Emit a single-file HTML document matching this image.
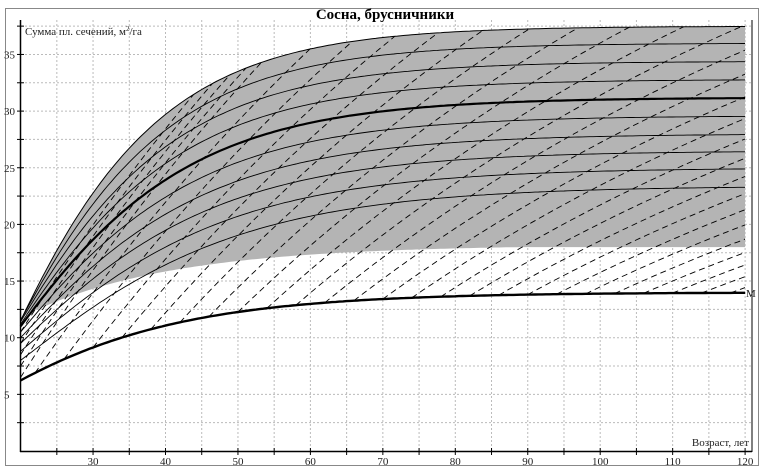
<!DOCTYPE html>
<html><head><meta charset="utf-8">
<style>
html,body{margin:0;padding:0;background:#fff;}
svg{display:block;font-family:"Liberation Serif",serif;}
</style></head>
<body>
<svg id="s" width="763" height="471" viewBox="0 0 763 471" xmlns="http://www.w3.org/2000/svg">
<rect x="0" y="0" width="763" height="471" fill="#fff"/>
<rect x="5.5" y="8.5" width="753" height="457" fill="none" stroke="#888" stroke-width="1"/>
<g id="grid" stroke="#bbb" stroke-width="1" stroke-dasharray="2,2"></g>
<defs>
<clipPath id="plot"><rect x="21" y="20" width="725" height="431"/></clipPath>
<clipPath id="env"><path id="envclip" d=""/></clipPath>
</defs>
<path id="gray" fill="#b4b4b4" stroke="none" clip-path="url(#plot)"/>
<g id="dash" fill="none" stroke="#000" stroke-width="0.9" stroke-dasharray="6,4" clip-path="url(#env)"></g>
<g id="sol" fill="none" stroke="#000" stroke-width="0.9" clip-path="url(#env)"></g>
<path id="upper" fill="none" stroke="#000" stroke-width="1"/>
<path id="bold" fill="none" stroke="#000" stroke-width="2.2"/>
<path id="low" fill="none" stroke="#000" stroke-width="2.4"/>
<line x1="20.5" y1="20" x2="20.5" y2="452" stroke="#000" stroke-width="1.5"/>
<line x1="20" y1="451.5" x2="752" y2="451.5" stroke="#000" stroke-width="1.5"/>
<line x1="752" y1="20" x2="752" y2="452" stroke="#000" stroke-width="1"/>
<g id="ticks" stroke="#000" stroke-width="1"></g>
<g font-size="11" fill="#222" id="lab"></g>
<text x="385" y="19" text-anchor="middle" font-size="15" font-weight="bold">Сосна, брусничники</text>
<text x="25" y="35" font-size="11" fill="#222">Сумма пл. сечений, м<tspan font-size="7" dy="-4">2</tspan><tspan dy="4">/га</tspan></text>
<text x="749" y="446" text-anchor="end" font-size="11" fill="#222">Возраст, лет</text>
<text x="746" y="297" font-size="11" fill="#222">М</text>
</svg>
<script>
var X=function(t){return 20.6+(t-20)*7.245;},Y=function(v){return 451-v*11.33;};
function sk(k){return function(t){return Math.pow(1-Math.exp(-k*t),3);};}
function curve(v0,A,k){var s=sk(k),s20=s(20);return function(t){return v0+(A-v0)*(s(t)-s20)/(1-s20);};}
var low=function(t){return 14*Math.pow(1-Math.exp(-0.055*t),2);};
var upv=curve(11.5,37.5,0.07);
function path(f,a,b){var d="";for(var t=a;t<=b+0.001;t+=0.5){d+=(d?"L":"M")+X(t).toFixed(1)+","+Y(f(t)).toFixed(1);}return d;}
function el(id){return document.getElementById(id);}
var NS="http://www.w3.org/2000/svg";
function add(g,tag,at){var e=document.createElementNS(NS,tag);for(var k in at)e.setAttribute(k,at[k]);el(g).appendChild(e);return e;}
for(var t=25;t<=120;t+=5)add("grid","line",{x1:X(t),y1:20,x2:X(t),y2:451});
for(var v=2.5;v<=37.5;v+=2.5)add("grid","line",{x1:21,y1:Y(v),x2:752,y2:Y(v)});
function gl(t){var a=11.8+6.4*(1-Math.exp(-(t-20)/20));return Math.min(a,18);}
var d=path(upv,20,120);
for(var t=120;t>=20;t-=0.5)d+="L"+X(t).toFixed(1)+","+Y(gl(t)).toFixed(1);
el("gray").setAttribute("d",d+"Z");
var e=path(upv,20,120);for(var t=120;t>=20;t-=0.5)e+="L"+X(t).toFixed(1)+","+Y(low(t)).toFixed(1);
el("envclip").setAttribute("d",e+"Z");
el("upper").setAttribute("d",path(upv,20,120));
el("bold").setAttribute("d",path(curve(11,31.2,0.062),20,120));
el("low").setAttribute("d",path(low,20,120));
[[8,23.4,0.052],[8.8,25,0.054],[9.5,26.5,0.056],[10,28,0.058],[10.5,29.6,0.06],[11.2,32.8,0.064],[11.4,34.4,0.066],[11.5,36,0.068]].forEach(function(p){
 add("sol","path",{d:path(curve(p[0],p[1],p[2]),20,120)});});
function dash(t0,v0,m){var T=90,S=m*T;add("dash","path",{d:path(function(t){return v0+S*(1-Math.exp(-(t-t0)/T));},t0,120)});}
[6.5,7.5,8.5,9.5,10.5].forEach(function(v){dash(20,v,1.0);});
for(var t0=22;t0<=118;t0+=4){dash(t0,low(t0),0.95*Math.exp(-(t0-20)/70));}
for(var t=25;t<=120;t+=5){add("ticks","line",{x1:X(t),y1:448,x2:X(t),y2:455});}
for(var t=30;t<=120;t+=10){var tx=add("lab","text",{x:X(t),y:465,"text-anchor":"middle"});tx.textContent=t;}
for(var v=2.5;v<=37.5;v+=2.5){add("ticks","line",{x1:17,y1:Y(v),x2:24,y2:Y(v)});}
for(var v=5;v<=35;v+=5){var tx=add("lab","text",{x:4,y:Y(v)+4});tx.textContent=v;}
</script>
</body></html>
